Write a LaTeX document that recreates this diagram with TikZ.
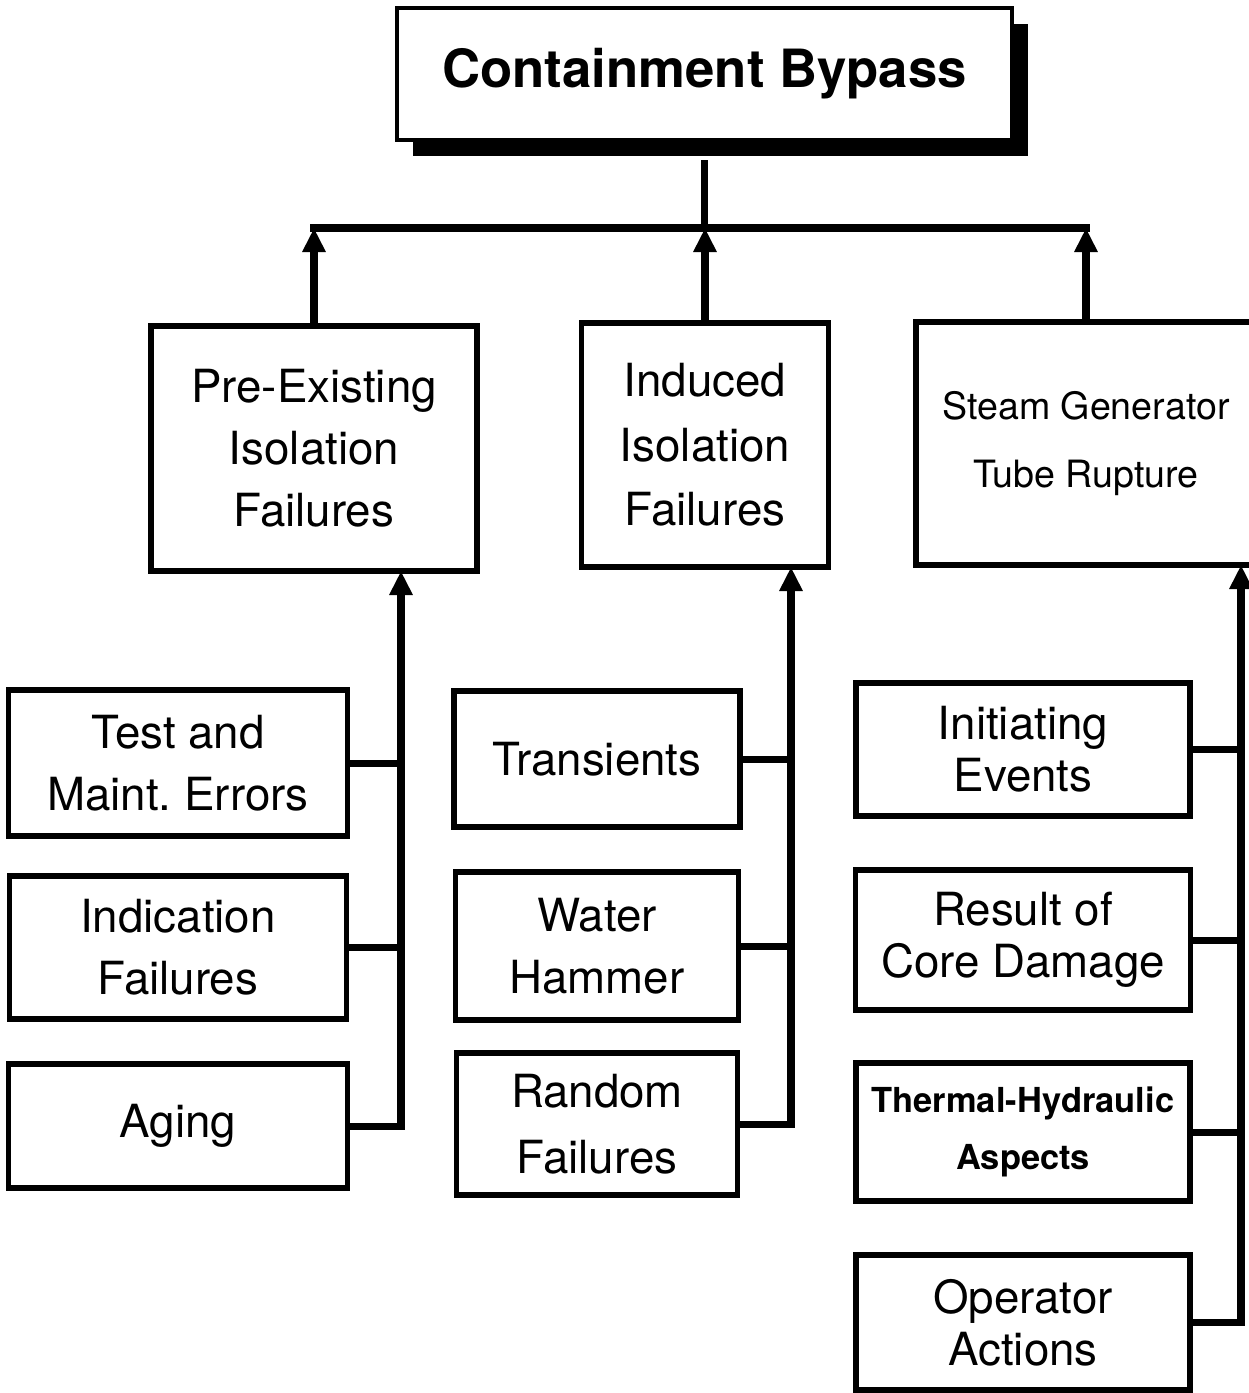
\documentclass[tikz,border=0pt]{standalone}
\usepackage{fontspec}
\setmainfont{TeX Gyre Heros}
\usetikzlibrary{arrows.meta,positioning,shadows}
\tikzset{
  box/.style={draw,line width=1.7pt,align=center,inner sep=2pt,outer sep=0pt,
              font=\fontsize{13}{17.6}\selectfont},
  tightbox/.style={box,font=\fontsize{13}{14.8}\selectfont},
  titlebox/.style={draw,line width=0.9pt,fill=white,align=center,outer sep=0pt,
              font=\bfseries\fontsize{15}{18}\selectfont,
              drop shadow={shadow xshift=1.6mm,shadow yshift=-1.6mm,fill=black,opacity=1}},
  link/.style={line width=2pt},
  flow/.style={link,-{Triangle[length=2.4mm,width=2.2mm]}}
}
\begin{document}
\begin{tikzpicture}
  \useasboundingbox (0,0) rectangle (12.49,-13.93);
  \node[titlebox,minimum width=6.15cm,minimum height=1.32cm] (title) at (7.045,-0.74) {Containment Bypass};

  % second level
  \node[box,minimum width=3.26cm,minimum height=2.45cm] (pre) at (3.14,-4.485) {Pre-Existing\\Isolation\\Failures};
  \node[box,minimum width=2.47cm,minimum height=2.44cm,font=\fontsize{13}{18.4}\selectfont] (induced) at (7.05,-4.45) {Induced\\Isolation\\Failures};
  \node[box,minimum width=3.4cm,minimum height=2.43cm,font=\fontsize{10.7}{19.6}\selectfont] (sgtr) at (10.86,-4.435) {Steam Generator\\Tube Rupture};

  % pre-existing causes
  \node[box,minimum width=3.39cm,minimum height=1.46cm] (test) at (1.78,-7.63) {Test and\\Maint.\ Errors};
  \node[box,below=4mm of test,minimum width=3.37cm,minimum height=1.43cm] (indic) {Indication\\Failures};
  \node[box,below=4.5mm of indic,minimum width=3.39cm,minimum height=1.24cm] (aging) {Aging};

  % induced causes
  \node[box,minimum width=2.86cm,minimum height=1.36cm] (trans) at (5.97,-7.59) {Transients};
  \node[box,below=4.5mm of trans,minimum width=2.83cm,minimum height=1.48cm] (water) {Water\\Hammer};
  \node[box,below=3.3mm of water,minimum width=2.81cm,minimum height=1.42cm,font=\fontsize{13}{18.6}\selectfont] (random) {Random\\Failures};

  % sgtr causes
  \node[tightbox,minimum width=3.34cm,minimum height=1.33cm] (init) at (10.23,-7.495) {Initiating\\Events};
  \node[tightbox,below=5.4mm of init,minimum width=3.35cm,minimum height=1.40cm] (result) {Result of\\Core Damage};
  \node[box,below=5.3mm of result,minimum width=3.34cm,minimum height=1.38cm,
        font=\bfseries\fontsize{9.8}{16}\selectfont] (thermal) {Thermal-Hydraulic\\Aspects};
  \node[tightbox,below=5.4mm of thermal,minimum width=3.34cm,minimum height=1.35cm] (oper) {Operator\\Actions};

  % tree above
  \coordinate (bar) at (0,-2.28);
  \draw[link] ([yshift=-2mm]title.south) -- (title.south |- bar);
  \draw[link] ([xshift=-1pt]pre.north |- bar) -- ([xshift=1pt]sgtr.north |- bar);
  \draw[flow] (pre.north) -- (pre.north |- bar);
  \draw[flow] (induced.north) -- (induced.north |- bar);
  \draw[flow] (sgtr.north) -- (sgtr.north |- bar);

  % spines
  \coordinate (lspine) at (4.01,0);
  \coordinate (mspine) at (7.91,0);
  \coordinate (rspine) at (12.41,0);
  \draw[link] (test.east) -- (test.east -| lspine);
  \draw[link] (indic.east) -- (indic.east -| lspine);
  \draw[flow] (aging.east) -| (pre.south -| lspine);
  \draw[link] (trans.east) -- (trans.east -| mspine);
  \draw[link] (water.east) -- (water.east -| mspine);
  \draw[flow] (random.east) -| (induced.south -| mspine);
  \draw[link] (init.east) -- (init.east -| rspine);
  \draw[link] (result.east) -- (result.east -| rspine);
  \draw[link] (thermal.east) -- (thermal.east -| rspine);
  \draw[flow] (oper.east) -| (sgtr.south -| rspine);
\end{tikzpicture}
\end{document}
